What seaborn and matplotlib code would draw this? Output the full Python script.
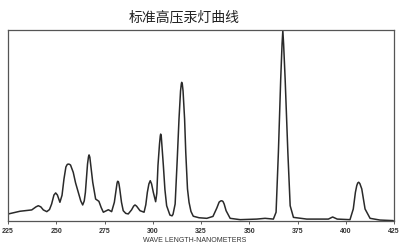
import matplotlib
matplotlib.use("Agg")
import matplotlib.pyplot as plt
import seaborn as sns
import pandas as pd

# Traced spectrum (wavelength in nm, relative intensity 0-100)
wavelength = [225.2, 231.2, 233.8, 237.3, 239.5, 240.7, 242.0, 243.3, 245.1, 246.5,
              247.6, 248.8, 249.7, 250.6, 251.9, 253.0, 254.0, 255.0, 255.7, 256.2,
              256.8, 257.4, 258.8, 260.0, 261.4, 262.7, 263.7, 264.5, 265.1, 265.8,
              266.2, 266.7, 267.0, 267.4, 267.8, 268.9, 270.4, 272.1, 273.3, 274.4,
              275.8, 277.0, 278.7, 280.1, 281.0, 281.5, 281.8, 282.2, 282.5, 282.9,
              283.8, 284.7, 286.0, 287.3, 289.0, 290.1, 290.8, 291.6, 293.4, 295.5,
              296.4, 297.2, 298.0, 298.7, 299.4, 300.3, 301.5, 302.1, 302.7, 303.5,
              303.9, 304.1, 304.4, 304.7, 305.5, 306.3, 307.2, 308.9, 310.0, 310.5,
              311.6, 312.7, 313.6, 314.4, 314.8, 315.0, 315.3, 315.7, 316.5, 317.1,
              318.0, 318.8, 319.8, 321.0, 324.0, 328.0, 331.2, 333.2, 334.4, 335.2,
              335.8, 336.4, 337.0, 338.0, 340.1, 345.3, 353.9, 358.2, 362.5, 363.9,
              365.1, 366.3, 367.0, 367.4, 367.8, 368.6, 370.0, 371.2, 372.9, 379.8,
              388.4, 391.0, 393.2, 395.6, 402.2, 403.9, 405.0, 405.7, 406.2, 406.7,
              407.3, 408.3, 410.0, 412.6, 417.7, 424.6]
intensity = [3.7, 5.1, 5.4, 5.8, 7.4, 8.0, 7.4, 5.8, 4.9, 6.0,
             8.9, 13.6, 14.7, 13.6, 9.8, 13.5, 22.0, 28.3, 29.6, 29.8,
             29.7, 29.3, 25.5, 20.0, 15.0, 10.5, 8.4, 10.5, 15.0, 24.0,
             29.8, 33.6, 34.6, 33.4, 29.8, 20.3, 11.5, 10.3, 7.0, 4.6,
             5.3, 5.9, 4.9, 9.8, 16.5, 19.8, 20.8, 20.6, 19.4, 16.8,
             9.8, 5.4, 4.0, 3.7, 5.8, 7.8, 8.4, 7.8, 5.4, 4.6,
             8.5, 15.0, 19.4, 21.1, 19.4, 15.0, 10.1, 14.5, 29.0, 40.3,
             44.5, 45.5, 44.5, 40.3, 29.0, 16.5, 8.0, 3.1, 2.7, 3.5,
             8.9, 32.5, 53.4, 68.1, 71.8, 72.6, 71.8, 68.1, 53.4, 36.0,
             16.8, 9.8, 5.0, 2.5, 1.7, 1.4, 2.4, 6.8, 9.9, 10.5,
             10.6, 10.2, 8.9, 5.4, 1.4, 0.7, 1.0, 1.4, 1.0, 4.6,
             36.0, 74.3, 92.7, 99.7, 92.7, 74.3, 36.0, 8.0, 1.9, 1.0,
             1.0, 1.0, 2.1, 1.0, 0.7, 6.3, 15.0, 18.5, 19.9, 20.3,
             19.6, 16.8, 6.3, 1.4, 0.5, 0.2]
tick_values = [225, 250, 275, 300, 325, 350, 375, 400, 425]
title_text = "标准高压汞灯曲线"
xlabel_text = "WAVE LENGTH-NANOMETERS"

sns.set_theme(style="white")
plt.rcParams["font.family"] = ["Liberation Sans", "DejaVu Sans"]

df = pd.DataFrame({"wl": wavelength, "I": intensity})

fig = plt.figure(figsize=(4.0, 2.51), dpi=100)
ax = fig.add_axes([8 / 400, 1 - 222 / 251, 386 / 400, 191 / 251])
sns.lineplot(data=df, x="wl", y="I", ax=ax, color="#2a2a2a", linewidth=1.1,
             sort=False, estimator=None)

ax.set_xlim(225, 425)
ax.set_ylim(0, 100)
ax.set_xticks(tick_values)
ax.set_xticklabels([str(t) for t in tick_values], fontsize=5, fontweight="bold",
                   color="#333333")
ax.set_yticks([])
ax.set_ylabel("")
ax.set_xlabel("")
ax.tick_params(axis="x", direction="out", length=2, width=0.6, pad=2,
               color="#444444", bottom=True)
for s in ax.spines.values():
    s.set_visible(True)
    s.set_color("#555555")
    s.set_linewidth(0.9)

fig.text(194.5 / 400, 1 - 241 / 251, xlabel_text, ha="center", va="center",
         fontsize=5, color="#333333")
fig.text(184 / 400, 1 - 17 / 251, title_text, ha="center", va="center",
         fontsize=10, color="#222222", family=["Noto Sans CJK SC", "DejaVu Sans"])

fig.savefig("out.png", dpi=100)
